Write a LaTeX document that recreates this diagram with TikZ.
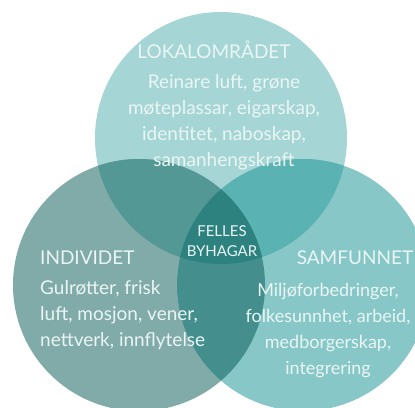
\documentclass[tikz,border=0pt]{standalone}
\usepackage{fontspec}
\setmainfont{Lato}
\usepackage{tikz}
\definecolor{topc}{HTML}{A6D5D5}
\definecolor{leftc}{HTML}{80ABA9}
\definecolor{rightc}{HTML}{88C7C7}
\definecolor{tlc}{HTML}{549895}
\definecolor{trc}{HTML}{5AB2B3}
\definecolor{lrc}{HTML}{448F8D}
\definecolor{midc}{HTML}{2D8280}
\definecolor{txtc}{HTML}{EAF5F5}
\tikzset{
	head/.style={text=txtc, inner sep=0pt, font=\fontsize{19}{22}\selectfont},
	body/.style={text=txtc, inner sep=0pt, align=center, font=\fontsize{19}{26}\selectfont},
	small/.style={text=txtc, inner sep=0pt, align=center, font=\fontsize{15}{19.5}\selectfont}
}

\begin{document}
\begin{tikzpicture}[x=1pt, y=1pt]
		%%%%% START %%%%%
		
		\useasboundingbox[fill=white] (0, 0) rectangle (415, 407);
		
		\coordinate (ctop) at (221, 269);
		\coordinate (cleft) at (139, 122);
		\coordinate (cright) at (303, 122);
		
		\fill[topc] (ctop) circle (126);
		\fill[leftc] (cleft) circle (126);
		\fill[rightc] (cright) circle (126);
		
		\begin{scope}
			\clip (ctop) circle (126);
			\fill[tlc] (cleft) circle (126);
			\fill[trc] (cright) circle (126);
		\end{scope}
		\begin{scope}
			\clip (cleft) circle (126);
			\fill[lrc] (cright) circle (126);
			\clip (cright) circle (126);
			\fill[midc] (ctop) circle (126);
		\end{scope}
		
		\node[head] (lokal) at (214, 357) {LOKALOMRÅDET};
		\node[body] (lokaltxt) at (224, 285) {Reinare luft, grøne\\møteplassar, eigarskap,\\identitet, naboskap,\\samanhengskraft};
		
		\node[small] (felles) at (222, 166) {FELLES\\BYHAGAR};
		
		\node[head, anchor=west] (indiv) at (40, 149) {INDIVIDET};
		\node[body, align=left, anchor=north west] (indivtxt) at (40, 127) {Gulrøtter, frisk\\luft, mosjon, vener,\\nettverk, innflytelse};
		
		\node[head] (samf) at (355, 149) {SAMFUNNET};
		\node[body, font=\fontsize{18}{26}\selectfont] (samftxt) at (328, 76) {Miljøforbedringer,\\folkesunnhet, arbeid,\\medborgerskap,\\integrering};
		
		%%%%% END %%%%%
	\end{tikzpicture}
\end{document}
